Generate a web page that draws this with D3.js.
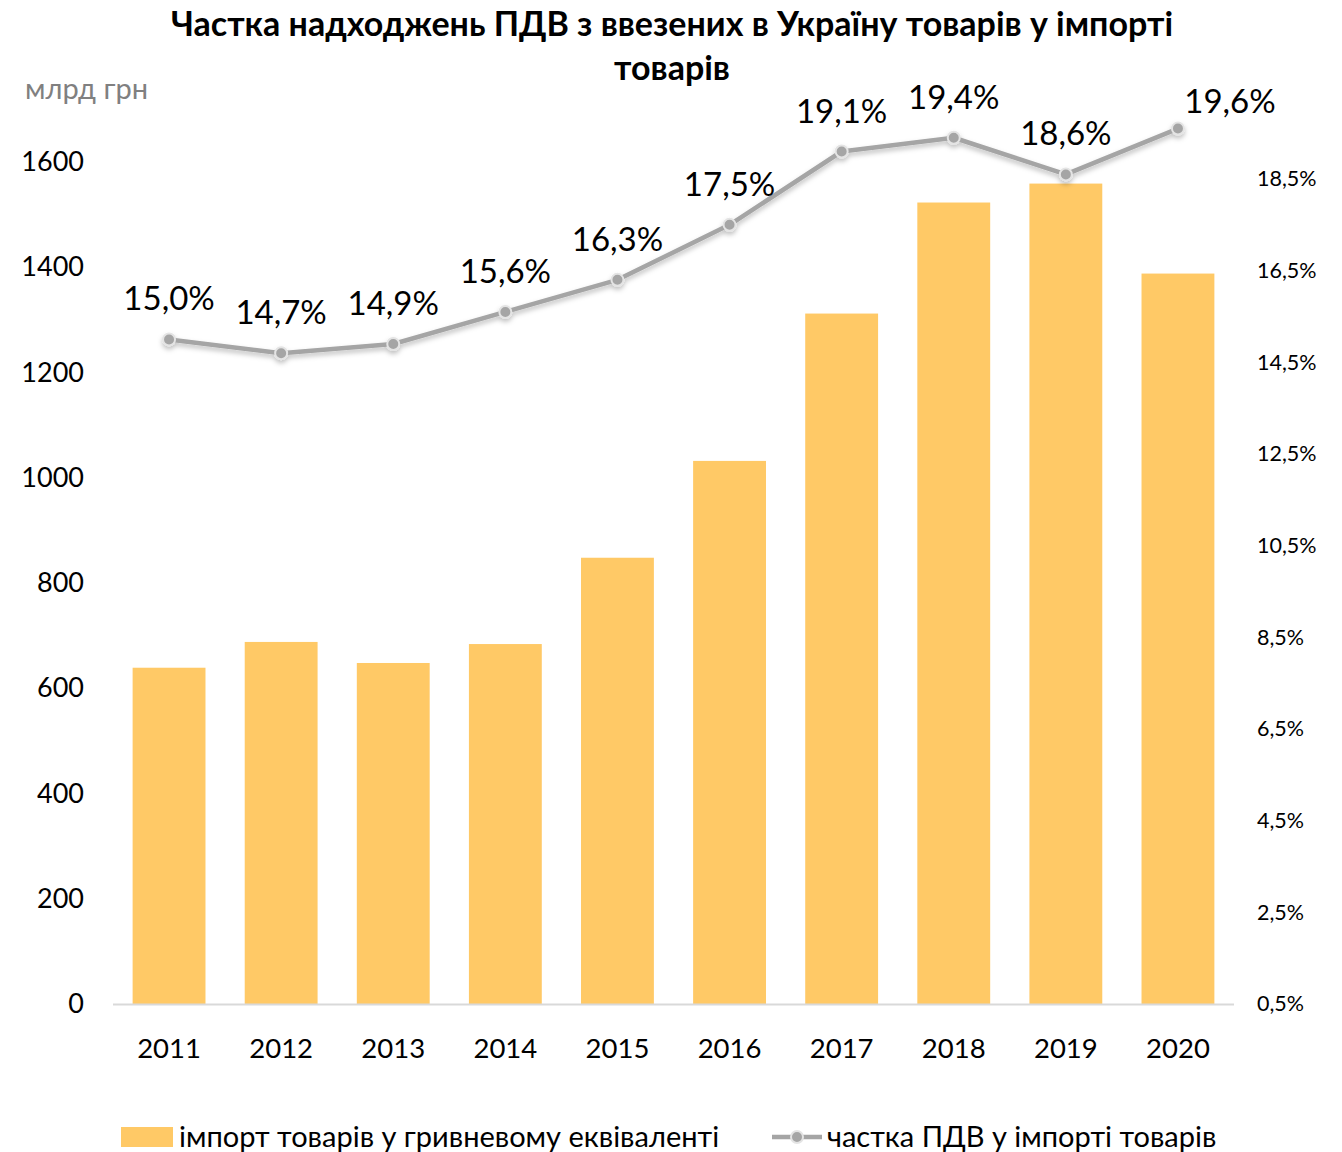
<!DOCTYPE html>
<html lang="uk">
<head>
<meta charset="UTF-8" />
<title>Частка надходжень ПДВ</title>
<style>
    body { margin: 0; background: #fff; }
    svg { display: block; font-family: Lato, "Open Sans", sans-serif; }
</style>
<script src="https://cdn.jsdelivr.net/npm/d3@7/dist/d3.min.js"></script>
</head>
<body>
<svg id="chart" width="1342" height="1152"></svg>
<script>
    const years = ["2011", "2012", "2013", "2014", "2015", "2016", "2017", "2018", "2019", "2020"];
    const importValues = [639, 688, 648, 684, 848, 1032, 1312, 1523, 1559, 1388];
    const vatShare = [15.0, 14.7, 14.9, 15.6, 16.3, 17.5, 19.1, 19.4, 18.6, 19.6];
    const leftTicks = [0, 200, 400, 600, 800, 1000, 1200, 1400, 1600];
    const rightTicks = [0.5, 2.5, 4.5, 6.5, 8.5, 10.5, 12.5, 14.5, 16.5, 18.5];

    const svg = d3.select("#chart");
    const FONT = "Lato, 'Open Sans', sans-serif";

    const x = d3.scaleBand().domain(years).range([113, 1234]).paddingInner(0.35).paddingOuter(0.175);
    const yLeft = d3.scaleLinear().domain([0, 1600]).range([1004, 162]);
    const yRight = d3.scaleLinear().domain([0.5, 18.5]).range([1004, 179]);
    const fmt = v => v.toFixed(1).replace(".", ",") + "%";

    // заголовок
    svg.append("text").attr("x", 672).attr("y", 36).attr("text-anchor", "middle")
        .attr("font-size", 34).attr("font-weight", "bold").attr("fill", "#000")
        .text("Частка надходжень ПДВ з ввезених в Україну товарів у імпорті");
    svg.append("text").attr("x", 672).attr("y", 80).attr("text-anchor", "middle")
        .attr("font-size", 34).attr("font-weight", "bold").attr("fill", "#000")
        .text("товарів");
    svg.append("text").attr("x", 25).attr("y", 99).attr("font-size", 29).attr("fill", "#808080")
        .text("млрд грн");

    const defs = svg.append("defs");
    const sh = defs.append("filter").attr("id", "shadow").attr("x", "-20%").attr("y", "-20%")
        .attr("width", "140%").attr("height", "160%");
    sh.append("feDropShadow").attr("dx", 0).attr("dy", 3).attr("stdDeviation", 2.5)
        .attr("flood-color", "#000").attr("flood-opacity", 0.25);

    // стовпці
    svg.append("g").selectAll("rect").data(years).enter().append("rect")
        .attr("x", d => x(d))
        .attr("y", (d, i) => yLeft(importValues[i]))
        .attr("width", x.bandwidth())
        .attr("height", (d, i) => yLeft(0) - yLeft(importValues[i]))
        .attr("fill", "#ffc966");

    svg.append("line").attr("x1", 113).attr("x2", 1234).attr("y1", 1004.5).attr("y2", 1004.5)
        .attr("stroke", "#d9d9d9").attr("stroke-width", 2);

    // ліва вісь
    const axL = svg.append("g").attr("transform", "translate(84,0)")
        .call(d3.axisLeft(yLeft).tickValues(leftTicks).tickSize(0).tickPadding(0).tickFormat(d3.format("d")));
    axL.select(".domain").remove();
    axL.selectAll("text").attr("font-size", 27).attr("font-family", FONT).attr("fill", "#000");

    // права вісь
    const axR = svg.append("g").attr("transform", "translate(1257,0)")
        .call(d3.axisRight(yRight).tickValues(rightTicks).tickSize(0).tickPadding(0).tickFormat(fmt));
    axR.select(".domain").remove();
    axR.selectAll("text").attr("font-size", 21.5).attr("font-family", FONT).attr("fill", "#000");

    // роки
    const axX = svg.append("g").attr("transform", "translate(0,1038)")
        .call(d3.axisBottom(x).tickSize(0).tickPadding(0));
    axX.select(".domain").remove();
    axX.selectAll("text").attr("font-size", 27.5).attr("font-family", FONT).attr("fill", "#000");

    // лінія
    const cx = d => x(d) + x.bandwidth() / 2;
    const line = d3.line().x((d, i) => cx(years[i])).y(d => yRight(d));
    const lg = svg.append("g").attr("filter", "url(#shadow)");
    lg.append("path").datum(vatShare).attr("d", line)
        .attr("fill", "none").attr("stroke", "#a5a5a5").attr("stroke-width", 4.5).attr("stroke-linejoin", "round");
    lg.selectAll("circle").data(vatShare).enter().append("circle")
        .attr("cx", (d, i) => cx(years[i])).attr("cy", d => yRight(d)).attr("r", 6)
        .attr("fill", "#a5a5a5").attr("stroke", "#e4e4e4").attr("stroke-width", 2);

    // підписи даних
    svg.append("g").selectAll("text").data(vatShare).enter().append("text")
        .attr("x", (d, i) => cx(years[i]) + (i === vatShare.length - 1 ? 52 : 0))
        .attr("y", (d, i) => yRight(d) - (i === vatShare.length - 1 ? 16 : 29))
        .attr("text-anchor", "middle").attr("font-size", 33).attr("fill", "#000")
        .text(fmt);

    // легенда
    const leg = svg.append("g");
    leg.append("rect").attr("x", 121).attr("y", 1127).attr("width", 52).attr("height", 20).attr("fill", "#ffc966");
    leg.append("text").attr("x", 179).attr("y", 1147).attr("font-size", 29).attr("fill", "#000")
        .text("імпорт товарів у гривневому еквіваленті");
    leg.append("line").attr("x1", 772).attr("x2", 822).attr("y1", 1137).attr("y2", 1137)
        .attr("stroke", "#a5a5a5").attr("stroke-width", 4.5);
    leg.append("circle").attr("cx", 797).attr("cy", 1137).attr("r", 6)
        .attr("fill", "#a5a5a5").attr("stroke", "#e4e4e4").attr("stroke-width", 2);
    leg.append("text").attr("x", 827).attr("y", 1147).attr("font-size", 29).attr("fill", "#000")
        .text("частка ПДВ у імпорті товарів");
</script>
</body>
</html>
